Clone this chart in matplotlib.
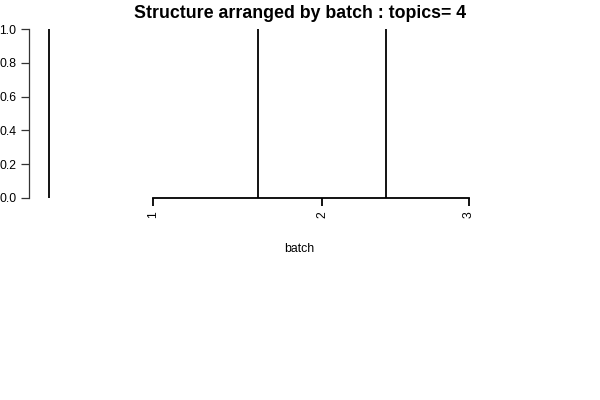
import matplotlib
matplotlib.use("Agg")
import matplotlib.pyplot as plt
import numpy as np

plt.rcParams['font.family'] = ['Liberation Sans', 'DejaVu Sans']

# samples per batch
batch_names = ['1', '2', '3']
batch_sizes = [52, 32, 41]
title = "Structure arranged by batch : topics= 4"

starts = np.concatenate([[0], np.cumsum(batch_sizes)[:-1]])
ends = np.cumsum(batch_sizes)
mids = (starts + ends) / 2.0

fig = plt.figure(figsize=(6, 4), dpi=100)
ax = fig.add_axes([29 / 600, 1 - 198 / 400, 542 / 600, 169 / 400])

# batch separators
ax.vlines(starts, 0, 1, color='black', linewidth=1.3)

ax.set_xlim(-5, ends[-1] + 5)
ax.set_ylim(0, 1)

for s in ['top', 'right']:
    ax.spines[s].set_visible(False)
ax.spines['left'].set_bounds(0, 1)
ax.spines['left'].set_linewidth(0.9)
ax.spines['left'].set_color('#333333')
ax.spines['bottom'].set_bounds(mids[0], mids[-1])
ax.spines['bottom'].set_linewidth(1.3)

ax.set_yticks(np.arange(0, 1.01, 0.2))
ax.set_yticklabels(['%.1f' % v for v in np.arange(0, 1.01, 0.2)])
ax.set_xticks(mids)
ax.set_xticklabels(batch_names, rotation=90)
ax.tick_params(axis='y', length=6, width=0.9, color='#333333', pad=3, labelsize=8.8)
ax.tick_params(axis='x', length=5.5, width=1.3, pad=4, labelsize=8.8)

fig.text(0.5, 1 - 14 / 400, title, ha='center', va='center',
         fontsize=12.8, fontweight='bold')
fig.text(299 / 600, 1 - 249 / 400, 'batch', ha='center', va='center', fontsize=8.8)

fig.savefig('out.png', dpi=100)
